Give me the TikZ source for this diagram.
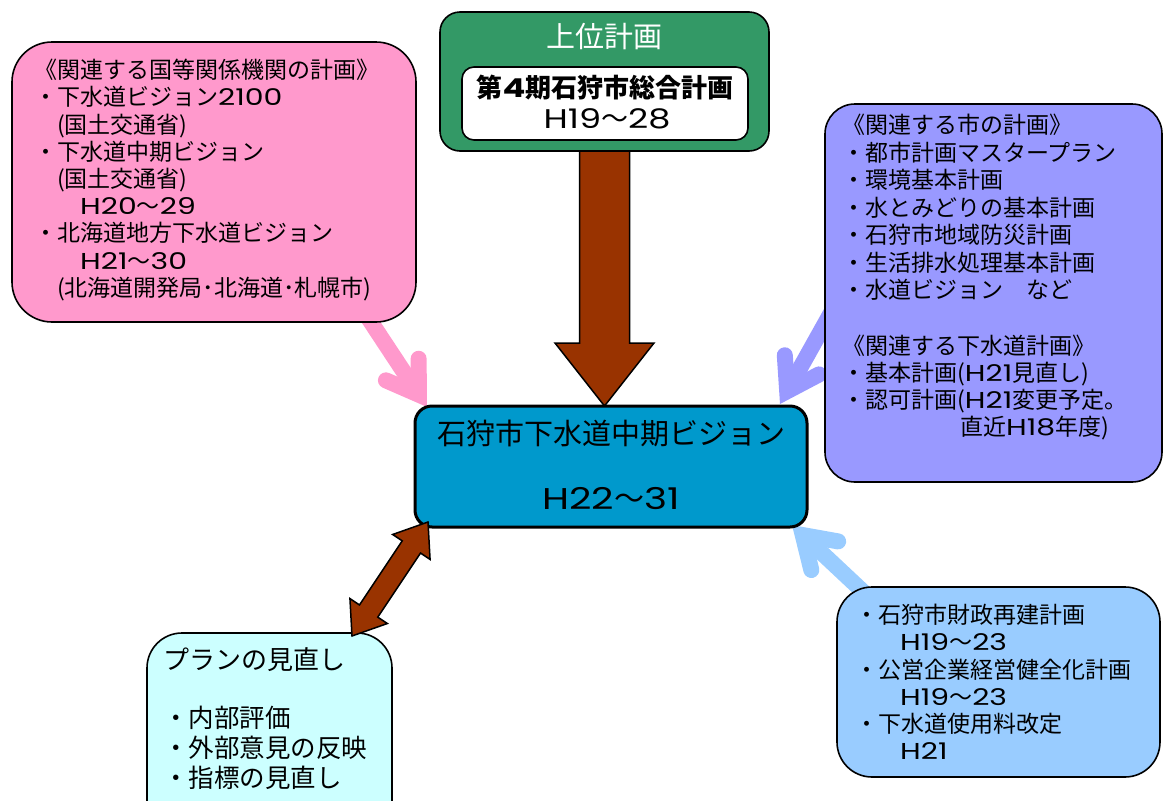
\documentclass[tikz,border=0pt]{standalone}
\usepackage{fontspec}
\usepackage{graphicx}
\setmainfont{Noto Sans CJK JP}
\newfontfamily\poppinsfont{Poppins}
\newcommand\latn[1]{{\poppinsfont\scalebox{1.3}[1]{#1}}}
\usetikzlibrary{calc}
\pgfdeclarelayer{background}
\pgfsetlayers{background,main}
\definecolor{pinkc}{HTML}{FF99CC}
\definecolor{greenc}{HTML}{339966}
\definecolor{cenc}{HTML}{0099CC}
\definecolor{purc}{HTML}{9999FF}
\definecolor{lbc}{HTML}{99CCFF}
\definecolor{cyc}{HTML}{CCFFFF}
\definecolor{brownc}{HTML}{993300}
\tikzset{
  box/.style={draw=black, line width=1.6pt, inner sep=0pt, outer sep=0pt, anchor=north west},
  ltxt/.style={anchor=west, inner sep=0pt, font=\fontsize{#1}{#1}\selectfont, text height={#1pt*0.88}, text depth={#1pt*0.12}},
  ctxt/.style={anchor=center, inner sep=0pt, font=\fontsize{#1}{#1}\selectfont, text height={#1pt*0.88}, text depth={#1pt*0.12}},
  fat/.style={fill=brownc, draw=black, line width=1.5pt, line join=miter},
}
\newcommand\barbarrow[4]{%
  \coordinate (#1v) at ($(#4)!14.7pt!(#3)$);
  \draw[draw=#2, line width=16pt] (#3) -- (#1v);
  \draw[draw=#2, line width=16pt, line cap=round, line join=miter, miter limit=10]
    ($(#1v)!36pt!33:(#3)$) -- (#1v) -- ($(#1v)!36pt!-33:(#3)$);
}
\begin{document}
\begin{tikzpicture}[x=1pt, y=-1pt]
\useasboundingbox (0,0) rectangle (1163,801);

% boxes
\node[box, fill=pinkc, rounded corners=40pt, minimum width=404pt, minimum height=280pt] (pink) at (12,42) {};
\node[box, fill=greenc, rounded corners=20pt, minimum width=329pt, minimum height=139pt] (grn) at (440,12) {};
\node[box, fill=white, rounded corners=12pt, minimum width=286pt, minimum height=73pt] (gin) at (462,67) {};
\node[box, line width=3pt, fill=cenc, rounded corners=17pt, minimum width=392pt, minimum height=121pt] (cen) at (415,406) {};
\node[box, fill=purc, rounded corners=30pt, minimum width=337pt, minimum height=378pt] (pur) at (825,104) {};
\node[box, fill=lbc, rounded corners=35pt, minimum width=323pt, minimum height=190pt] (lb) at (837,587) {};
\node[box, fill=cyc, rounded corners=35pt, minimum width=245pt, minimum height=220pt] (cyn) at (147,633) {};

% arrows behind boxes
\coordinate (pkS) at ($(pink.south east)+(-55,-15)$);
\coordinate (pkT) at ($(cen.north west)+(12,1)$);
\coordinate (puS) at ($(pur.west)+(16,2)$);
\coordinate (puT) at ($(cen.north east)+(-27,-2)$);
\coordinate (lbS) at ($(lb.north west)+(35,13)$);
\coordinate (lbT) at ($(cen.south east)+(-15,-2)$);
\coordinate (gT) at (grn.south |- cen.north);
\begin{pgfonlayer}{background}
  \barbarrow{pk}{pinkc}{pkS}{pkT}
  \barbarrow{pu}{purc}{puS}{puT}
  \barbarrow{lb}{lbc}{lbS}{lbT}
  \draw[fat] ($(grn.south)+(-25,-5)$) -- ($(grn.south)+(25,-5)$) -- ($(gT)+(25,-63)$)
    -- ($(gT)+(49.5,-63)$) -- (gT) -- ($(gT)+(-49.5,-63)$) -- ($(gT)+(-25,-63)$) -- cycle;
\end{pgfonlayer}

% double arrow on top
\coordinate (dA) at ($(cen.south west)+(13,-5)$);
\coordinate (dB) at ($(cyn.north east)+(-40,3)$);
\coordinate (h1) at ($(dA)!30pt!(dB)$);
\coordinate (h2) at ($(dB)!30pt!(dA)$);
\draw[fat] (dA) -- ($(h1)!22.5pt!90:(dB)$) -- ($(h1)!11pt!90:(dB)$) -- ($(h2)!11pt!-90:(dA)$)
  -- ($(h2)!22.5pt!-90:(dA)$) -- (dB) -- ($(h2)!22.5pt!90:(dA)$) -- ($(h2)!11pt!90:(dA)$)
  -- ($(h1)!11pt!-90:(dB)$) -- ($(h1)!22.5pt!-90:(dB)$) -- cycle;

% pink texts
\foreach \x/\t [count=\i] in {
  34/{《関連する国等関係機関の計画》},
  34/{・下水道ビジョン\latn{2100}},
  57/{(国土交通省)},
  34/{・下水道中期ビジョン},
  57/{(国土交通省)},
  80/{\latn{H20}〜\latn{29}},
  34/{・北海道地方下水道ビジョン},
  80/{\latn{H21}〜\latn{30}},
  57/{(北海道開発局･北海道･札幌市)}}
  \node[ltxt=23] (pk\i) at (\x,{70+(\i-1)*27.2}) {\t};

% green texts
\node[ctxt=29, text=white] (g1) at (604.5,36) {上位計画};
\node[ctxt=26, font=\fontsize{26}{26}\selectfont\bfseries] (g2) at (605,88) {第\latn{4}期石狩市総合計画};
\node[ctxt=27] (g3) at (607,118) {\latn{H19}〜\latn{28}};

% center texts
\node[ctxt=29] (c1) at (611,433) {石狩市下水道中期ビジョン};
\node[ctxt=30] (c2) at (611,498) {\latn{H22}〜\latn{31}};

% purple texts
\foreach \x/\y/\t [count=\i] in {
  842/125/{《関連する市の計画》},
  842/152.5/{・都市計画マスタープラン},
  842/180/{・環境基本計画},
  842/207.5/{・水とみどりの基本計画},
  842/235/{・石狩市地域防災計画},
  842/262.5/{・生活排水処理基本計画},
  842/290/{・水道ビジョン　など},
  842/346/{《関連する下水道計画》},
  842/373/{・基本計画(\latn{H21}見直し)},
  842/400/{・認可計画(\latn{H21}変更予定。},
  960/427/{直近\latn{H18}年度)}}
  \node[ltxt=23] (pu\i) at (\x,\y) {\t};

% light blue texts
\foreach \x/\t [count=\i] in {
  855/{・石狩市財政再建計画},
  900/{\latn{H19}〜\latn{23}},
  855/{・公営企業経営健全化計画},
  900/{\latn{H19}〜\latn{23}},
  855/{・下水道使用料改定},
  900/{\latn{H21}}}
  \node[ltxt=23] (lb\i) at (\x,{615+(\i-1)*27.2}) {\t};

% cyan texts
\node[ltxt=26] (cy0) at (163,660) {プランの見直し};
\foreach \t [count=\i] in {{・内部評価},{・外部意見の反映},{・指標の見直し}}
  \node[ltxt=25.5] (cy\i) at (163,{718+(\i-1)*30}) {\t};
\end{tikzpicture}
\end{document}
